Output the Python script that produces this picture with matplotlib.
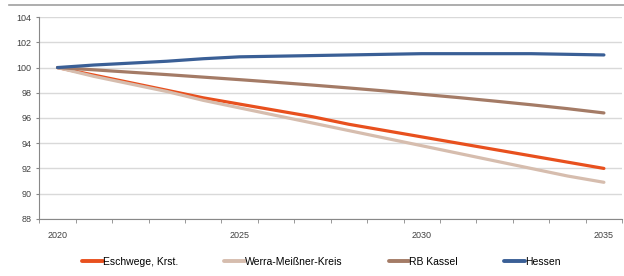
import matplotlib.pyplot as plt
from matplotlib.lines import Line2D

plt.rcParams['font.family'] = ['Liberation Sans', 'DejaVu Sans']

years = list(range(2020, 2036))
eschwege = [100.0, 99.4, 98.8, 98.2, 97.6, 97.1, 96.6, 96.1, 95.5, 95.0, 94.5, 94.0, 93.5, 93.0, 92.5, 92.0]
werra = [100.0, 99.3, 98.7, 98.1, 97.4, 96.8, 96.2, 95.6, 95.0, 94.4, 93.8, 93.2, 92.6, 92.0, 91.4, 90.9]
kassel = [100.0, 99.82, 99.63, 99.44, 99.24, 99.04, 98.83, 98.61, 98.38, 98.14, 97.88, 97.62, 97.34, 97.05, 96.74, 96.4]
hessen = [100.0, 100.2, 100.35, 100.5, 100.7, 100.85, 100.9, 100.95, 101.0, 101.05, 101.1, 101.1, 101.1, 101.1, 101.05, 101.0]
labels = ['Eschwege, Krst.', 'Werra-Meißner-Kreis', 'RB Kassel', 'Hessen']
colors = ['#E8501E', '#D6BDAE', '#A47B66', '#3A5F96']

fig = plt.figure(figsize=(6.24, 2.76), dpi=100)
ax = fig.add_axes([0.063, 0.207, 0.934, 0.731])

# top rule
fig.add_artist(Line2D([0.015, 1.0], [0.982, 0.982], color='#A0A0A0', lw=1.2))

x = list(range(len(years)))
series = [eschwege, werra, kassel, hessen]
for vals, c, lab in zip(series, colors, labels):
    ax.plot(x, vals, color=c, lw=2.3, label=lab, solid_capstyle='round')

ax.set_xlim(-0.5, len(years) - 0.5)
ax.set_ylim(88, 104)
ax.set_yticks(range(88, 105, 2))
ax.grid(axis='y', color='#D9D9D9', lw=1)
ax.set_axisbelow(True)

ax.set_xticks([0, 5, 10, 15])
ax.set_xticklabels(['2020', '2025', '2030', '2035'])
ax.set_xticks([i - 0.5 for i in range(len(years) + 1)], minor=True)
ax.tick_params(axis='x', which='major', length=0, pad=9, labelsize=6.5, labelcolor='#404040')
ax.tick_params(axis='x', which='minor', length=3, color='#888888', direction='out')
ax.tick_params(axis='y', length=2.5, color='#888888', labelsize=6.5, labelcolor='#404040', pad=3)

for s in ['top', 'right']:
    ax.spines[s].set_visible(False)
for s in ['left', 'bottom']:
    ax.spines[s].set_color('#888888')

leg = fig.legend(loc='lower center', ncol=4, bbox_to_anchor=(0.515, 0.0), frameon=False,
                 fontsize=7.5, handlelength=2.0, handletextpad=0.0, columnspacing=4.4)
for h in leg.get_lines():
    h.set_linewidth(2.8)

fig.savefig('out.png', dpi=100)
